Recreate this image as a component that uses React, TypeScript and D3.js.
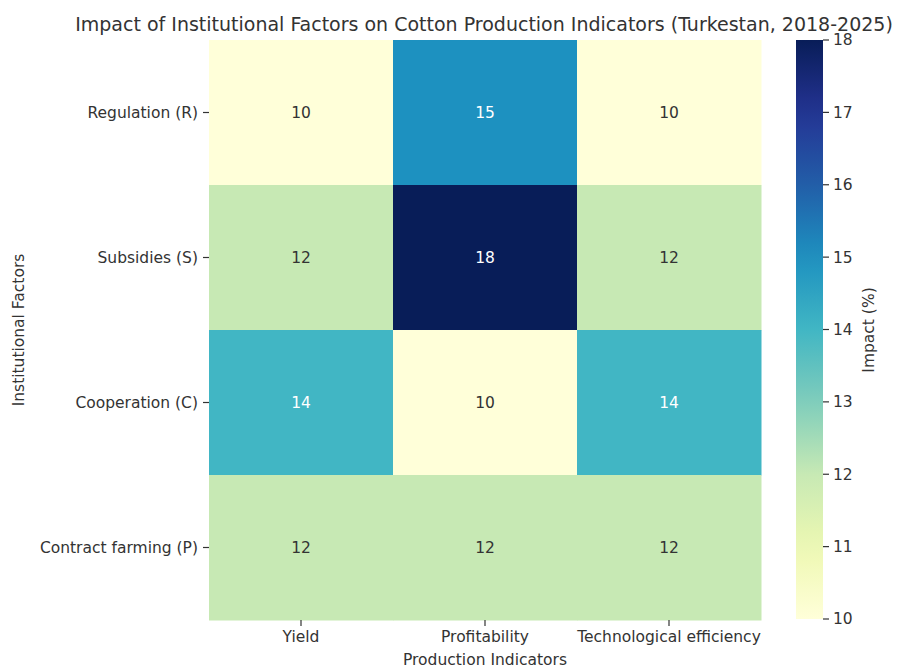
import React from 'react';
import * as d3 from 'd3';

// Heatmap data
const factors = ['Regulation (R)', 'Subsidies (S)', 'Cooperation (C)', 'Contract farming (P)'];
const indicators = ['Yield', 'Profitability', 'Technological efficiency'];
const yieldValues = [10, 12, 14, 12];
const profitabilityValues = [15, 18, 10, 12];
const techValues = [10, 12, 14, 12];
const colorbarTicks = [10, 11, 12, 13, 14, 15, 16, 17, 18];

const W = 898;
const H = 666;
const FONT = 'DejaVu Sans, sans-serif';
const FS = 15.5;
const INK = '#333333';

const App: React.FC = () => {
  const columns = [yieldValues, profitabilityValues, techValues];

  const x = d3.scaleBand<string>().domain(indicators).range([209, 761]);
  const y = d3.scaleBand<string>().domain(factors).range([40, 620]);

  // matplotlib's YlGnBu is a linear blend of the 9 colorbrewer stops
  const ramp = d3.piecewise(d3.interpolateRgb, d3.schemeYlGnBu[9] as string[]);
  const color = d3.scaleSequential(ramp).domain([10, 18]);

  const cbY = d3.scaleLinear().domain([10, 18]).range([619, 40]);
  const cbX0 = 796;
  const cbX1 = 823;

  const cells = [] as { f: string; ind: string; v: number }[];
  columns.forEach((vals, ci) => {
    vals.forEach((v, ri) => cells.push({ f: factors[ri], ind: indicators[ci], v }));
  });

  // same rule seaborn uses for annotation colour
  const lin = (c: number) => {
    const s = c / 255;
    return s <= 0.03928 ? s / 12.92 : Math.pow((s + 0.055) / 1.055, 2.4);
  };
  const textColor = (v: number) => {
    const c = d3.rgb(color(v));
    const lum = 0.2126 * lin(c.r) + 0.7152 * lin(c.g) + 0.0722 * lin(c.b);
    return lum < 0.408 ? '#ffffff' : INK;
  };

  const gradStops = d3.range(0, 1.0001, 0.05);

  return (
    <svg width={W} height={H} style={{ position: 'absolute', left: 0, top: 0, background: '#fff' }} fontFamily={FONT}>
      <defs>
        <linearGradient id="cb" x1="0" y1="1" x2="0" y2="0">
          {gradStops.map(t => (
            <stop key={t} offset={`${t * 100}%`} stopColor={ramp(t)} />
          ))}
        </linearGradient>
      </defs>

      <text x={484} y={31} textAnchor="middle" fontSize={19} fill={INK}>
        Impact of Institutional Factors on Cotton Production Indicators (Turkestan, 2018-2025)
      </text>

      {cells.map(c => (
        <g key={c.f + c.ind}>
          <rect
            x={x(c.ind)}
            y={y(c.f)}
            width={x.bandwidth() + 0.5}
            height={y.bandwidth() + 0.5}
            fill={color(c.v)}
          />
          <text
            x={(x(c.ind) as number) + x.bandwidth() / 2}
            y={(y(c.f) as number) + y.bandwidth() / 2}
            dy="0.35em"
            textAnchor="middle"
            fontSize={FS}
            fill={textColor(c.v)}
          >
            {c.v}
          </text>
        </g>
      ))}

      {/* y axis */}
      {factors.map(f => {
        const yy = (y(f) as number) + y.bandwidth() / 2;
        return (
          <g key={f}>
            <line x1={203} x2={209} y1={yy} y2={yy} stroke={INK} strokeWidth={1.2} />
            <text x={198} y={yy} dy="0.35em" textAnchor="end" fontSize={FS} fill={INK}>{f}</text>
          </g>
        );
      })}
      <text transform="translate(24,330) rotate(-90)" textAnchor="middle" fontSize={FS} fill={INK}>
        Institutional Factors
      </text>

      {/* x axis */}
      {indicators.map(ind => {
        const xx = (x(ind) as number) + x.bandwidth() / 2;
        return (
          <g key={ind}>
            <line x1={xx} x2={xx} y1={620} y2={626} stroke={INK} strokeWidth={1.2} />
            <text x={xx} y={642} textAnchor="middle" fontSize={FS} fill={INK}>{ind}</text>
          </g>
        );
      })}
      <text x={485} y={665} textAnchor="middle" fontSize={FS} fill={INK}>Production Indicators</text>

      {/* colorbar */}
      <rect x={cbX0} y={40} width={cbX1 - cbX0} height={579} fill="url(#cb)" />
      {colorbarTicks.map(t => (
        <g key={t}>
          <line x1={cbX1} x2={cbX1 + 6} y1={cbY(t)} y2={cbY(t)} stroke={INK} strokeWidth={1.2} />
          <text x={cbX1 + 10} y={cbY(t)} dy="0.35em" fontSize={FS} fill={INK}>{t}</text>
        </g>
      ))}
      <text transform="translate(874,330) rotate(-90)" textAnchor="middle" fontSize={FS} fill={INK}>
        Impact (%)
      </text>
    </svg>
  );
};

export default App;
